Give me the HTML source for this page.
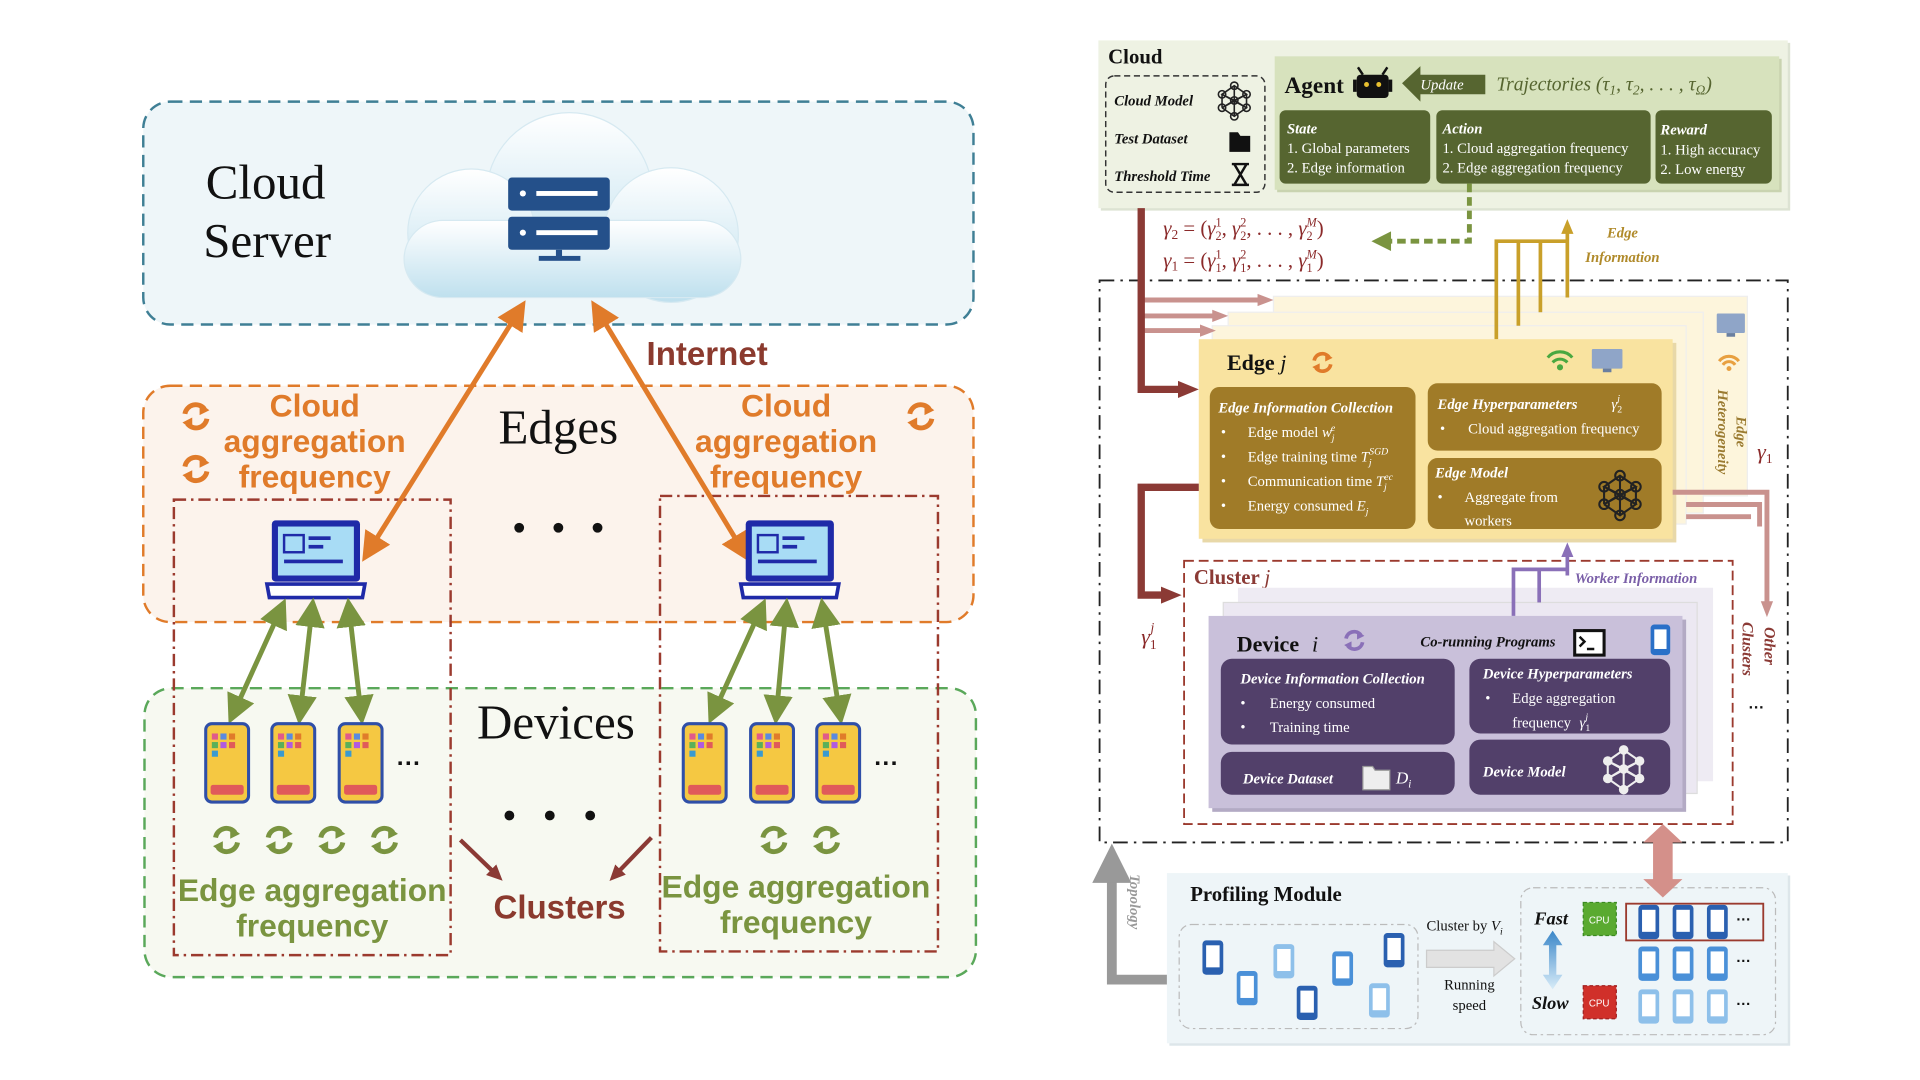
<!DOCTYPE html>
<html><head><meta charset="utf-8"><style>
html,body{margin:0;padding:0;background:#fff;width:1920px;height:1080px;overflow:hidden}
svg{display:block}
.serif{font-family:"Liberation Serif",serif}
.sans{font-family:"Liberation Sans Narrow","Liberation Sans",sans-serif}
</style></head><body>
<svg width="1920" height="1080" viewBox="0 0 1568 882" preserveAspectRatio="none" xmlns="http://www.w3.org/2000/svg">
<defs>
<linearGradient id="cg" x1="0" y1="0" x2="0" y2="1"><stop offset="0" stop-color="#ffffff"/><stop offset="1" stop-color="#bfe0ee"/></linearGradient>
<linearGradient id="fs" x1="0" y1="0" x2="0" y2="1"><stop offset="0" stop-color="#3a86c8"/><stop offset="1" stop-color="#d8ecf8"/></linearGradient>
<marker id="ao" markerWidth="6" markerHeight="6" refX="4" refY="3" orient="auto-start-reverse" markerUnits="strokeWidth"><path d="M0,0 L6,3 L0,6 z" fill="#e07b2a"/></marker>
<marker id="ag" markerWidth="6" markerHeight="6" refX="4" refY="3" orient="auto-start-reverse" markerUnits="strokeWidth"><path d="M0,0 L6,3 L0,6 z" fill="#7a9440"/></marker>
<marker id="ar" markerWidth="18" markerHeight="18" refX="6" refY="9" orient="auto" markerUnits="userSpaceOnUse"><path d="M0,2 L17,9 L0,16 z" fill="#8b3a35"/></marker>
<marker id="arl" markerWidth="14" markerHeight="14" refX="4" refY="7" orient="auto" markerUnits="userSpaceOnUse"><path d="M0,1 L13,7 L0,13 z" fill="#8b3a35"/></marker>
<marker id="ap" markerWidth="14" markerHeight="12" refX="3" refY="6" orient="auto" markerUnits="userSpaceOnUse"><path d="M0,1 L13,6 L0,11 z" fill="#c9928e"/></marker>
<marker id="ay" markerWidth="12" markerHeight="12" refX="3" refY="6" orient="auto" markerUnits="userSpaceOnUse"><path d="M0,1 L12,6 L0,11 z" fill="#c9a02a"/></marker>
<marker id="av" markerWidth="12" markerHeight="12" refX="3" refY="6" orient="auto" markerUnits="userSpaceOnUse"><path d="M0,1 L12,6 L0,11 z" fill="#8a70b8"/></marker>
<marker id="agr" markerWidth="4" markerHeight="4" refX="2" refY="2" orient="auto" markerUnits="strokeWidth"><path d="M0,0 L4,2 L0,4 z" fill="#999"/></marker>
<g id="refO"><path d="M-9,-2 A9,9 0 0 1 7,-6" fill="none" stroke="#e07b2a" stroke-width="4"/><path d="M3,-11 L11,-5 L3,-1 z" fill="#e07b2a"/><path d="M9,2 A9,9 0 0 1 -7,6" fill="none" stroke="#e07b2a" stroke-width="4"/><path d="M-3,11 L-11,5 L-3,1 z" fill="#e07b2a"/></g>
<g id="refG"><path d="M-9,-2 A9,9 0 0 1 7,-6" fill="none" stroke="#7a9440" stroke-width="4"/><path d="M3,-11 L11,-5 L3,-1 z" fill="#7a9440"/><path d="M9,2 A9,9 0 0 1 -7,6" fill="none" stroke="#7a9440" stroke-width="4"/><path d="M-3,11 L-11,5 L-3,1 z" fill="#7a9440"/></g>
<g id="phone"><rect x="0" y="0" width="35" height="64" rx="5" fill="#f5c842" stroke="#2f4fa8" stroke-width="2.5"/>
<rect x="5" y="8" width="5" height="5" fill="#e05a8a"/><rect x="12" y="8" width="5" height="5" fill="#5a8ae0"/><rect x="19" y="8" width="5" height="5" fill="#e07b2a"/>
<rect x="5" y="15" width="5" height="5" fill="#5ab05a"/><rect x="12" y="15" width="5" height="5" fill="#b05ae0"/><rect x="19" y="15" width="5" height="5" fill="#e05a5a"/>
<rect x="5" y="22" width="5" height="5" fill="#3a9ad0"/><rect x="4" y="50" width="27" height="8" rx="2" fill="#e05a5a"/></g>
<g id="laptop"><rect x="4" y="0" width="72" height="50" rx="3" fill="#1f2aa8"/><rect x="9" y="5" width="62" height="40" fill="#a8dcf5"/>
<rect x="14" y="12" width="16" height="14" fill="none" stroke="#1f2aa8" stroke-width="2"/><rect x="34" y="13" width="18" height="3" fill="#1f2aa8"/><rect x="34" y="20" width="12" height="3" fill="#1f2aa8"/><rect x="14" y="32" width="48" height="3" fill="#1f2aa8"/>
<path d="M0,52 L80,52 L78,63 L2,63 z" fill="#fff" stroke="#1f2aa8" stroke-width="3"/></g>
<g id="bp"><rect x="0" y="0" width="17" height="28" rx="3"/><rect x="3" y="4" width="11" height="18" fill="#fff"/></g>
<g id="net" fill="none" stroke="#222" stroke-width="1.3"><circle cx="0" cy="-12" r="3"/><circle cx="-10" cy="-5" r="3"/><circle cx="10" cy="-5" r="3"/><circle cx="0" cy="0" r="3"/><circle cx="-10" cy="6" r="3"/><circle cx="10" cy="6" r="3"/><circle cx="0" cy="13" r="3"/><path d="M0,-12 L-10,-5 L0,0 L10,-5 Z M-10,-5 L-10,6 M10,-5 L10,6 M-10,6 L0,13 L10,6 L0,0 L-10,6 M0,-12 L0,13 M-10,-5 L10,6 M10,-5 L-10,6"/></g>
</defs>

<!-- ================= LEFT ================= -->
<rect x="117" y="83" width="678" height="182" rx="22" fill="#eef6f9" stroke="#3f7f95" stroke-width="2" stroke-dasharray="10,6"/>
<g fill="url(#cg)" stroke="#d6e9f1" stroke-width="1">
<circle cx="465" cy="160" r="68"/><circle cx="385" cy="190" r="52"/><circle cx="548" cy="192" r="55"/><rect x="330" y="180" width="275" height="63" rx="32"/>
</g>
<rect x="415" y="145" width="83" height="27" rx="3" fill="#24508a"/><rect x="415" y="177" width="83" height="27" rx="3" fill="#24508a"/>
<rect x="438" y="156" width="50" height="4" fill="#fff"/><rect x="438" y="188" width="50" height="4" fill="#fff"/><circle cx="427" cy="158" r="2.5" fill="#fff"/><circle cx="427" cy="190" r="2.5" fill="#fff"/>
<rect x="454" y="204" width="5" height="8" fill="#24508a"/><rect x="440" y="209" width="34" height="4" fill="#24508a"/>
<text x="168" y="162" class="serif" font-size="40" fill="#111">Cloud</text>
<text x="166" y="210" class="serif" font-size="40" fill="#111">Server</text>

<rect x="117" y="315" width="678" height="193" rx="22" fill="#fcf3ec" stroke="#e07b2a" stroke-width="2" stroke-dasharray="10,6"/>
<rect x="118" y="562" width="679" height="236" rx="22" fill="#f7f9f1" stroke="#5aa85a" stroke-width="2" stroke-dasharray="10,6"/>
<rect x="142" y="408" width="226" height="372" fill="none" stroke="#9b3a2e" stroke-width="2" stroke-dasharray="10,4,2,4"/>
<rect x="539" y="405" width="227" height="372" fill="none" stroke="#9b3a2e" stroke-width="2" stroke-dasharray="10,4,2,4"/>

<text x="456" y="362" class="serif" font-size="40" fill="#111" text-anchor="middle">Edges</text>
<text x="454" y="603" class="serif" font-size="40" fill="#111" text-anchor="middle">Devices</text>
<g class="sans" font-weight="bold" font-size="26" fill="#e07b2a" text-anchor="middle">
<text x="257" y="340">Cloud</text><text x="257" y="369">aggregation</text><text x="257" y="398">frequency</text>
<text x="642" y="340">Cloud</text><text x="642" y="369">aggregation</text><text x="642" y="398">frequency</text>
</g>
<use href="#refO" x="160" y="340"/><use href="#refO" x="160" y="383"/><use href="#refO" x="752" y="340"/>
<text x="528" y="298" class="sans" font-weight="bold" font-size="27" fill="#8b3a2e">Internet</text>
<g fill="#111"><circle cx="424" cy="431" r="4"/><circle cx="456" cy="431" r="4"/><circle cx="488" cy="431" r="4"/>
<circle cx="416" cy="666" r="4"/><circle cx="449" cy="666" r="4"/><circle cx="482" cy="666" r="4"/></g>

<line x1="300" y1="452" x2="425" y2="252" stroke="#e07b2a" stroke-width="4" marker-start="url(#ao)" marker-end="url(#ao)"/>
<line x1="608" y1="452" x2="487" y2="252" stroke="#e07b2a" stroke-width="4" marker-start="url(#ao)" marker-end="url(#ao)"/>
<use href="#laptop" x="218" y="425"/><use href="#laptop" x="605" y="425"/>

<g stroke="#7a9440" stroke-width="4" marker-start="url(#ag)" marker-end="url(#ag)">
<line x1="230" y1="496" x2="190" y2="584"/><line x1="255" y1="496" x2="245" y2="584"/><line x1="285" y1="496" x2="295" y2="584"/>
<line x1="622" y1="496" x2="582" y2="584"/><line x1="642" y1="496" x2="634" y2="584"/><line x1="672" y1="496" x2="686" y2="584"/>
</g>
<use href="#phone" x="168" y="591"/><use href="#phone" x="222" y="591"/><use href="#phone" x="277" y="591"/>
<use href="#phone" x="558" y="591"/><use href="#phone" x="613" y="591"/><use href="#phone" x="667" y="591"/>
<text x="324" y="630" font-family="Liberation Sans" font-size="20" font-weight="bold" fill="#111">···</text>
<text x="714" y="630" font-family="Liberation Sans" font-size="20" font-weight="bold" fill="#111">···</text>
<use href="#refG" x="185" y="686"/><use href="#refG" x="228" y="686"/><use href="#refG" x="271" y="686"/><use href="#refG" x="314" y="686"/>
<use href="#refG" x="632" y="686"/><use href="#refG" x="675" y="686"/>
<g class="sans" font-weight="bold" font-size="26" fill="#7a9440" text-anchor="middle">
<text x="255" y="736">Edge aggregation</text><text x="255" y="765">frequency</text>
<text x="650" y="733">Edge aggregation</text><text x="650" y="762">frequency</text>
</g>
<line x1="376" y1="686" x2="404" y2="713" stroke="#8b3a35" stroke-width="3.5" marker-end="url(#arl)"/>
<line x1="532" y1="684" x2="504" y2="713" stroke="#8b3a35" stroke-width="3.5" marker-end="url(#arl)"/>
<text x="457" y="750" class="sans" font-weight="bold" font-size="27" fill="#8b3a2e" text-anchor="middle">Clusters</text>

<!-- ================= RIGHT ================= -->
<rect x="899" y="35" width="563" height="137" fill="#dde3d3"/>
<rect x="897" y="33" width="563" height="137" fill="#eef2e3"/>
<text x="905" y="52" class="serif" font-weight="bold" font-size="17" fill="#111">Cloud</text>
<rect x="903" y="62" width="130" height="95" rx="7" fill="none" stroke="#333" stroke-width="1.2" stroke-dasharray="5,3"/>
<g class="serif" font-style="italic" font-weight="bold" font-size="12" fill="#111">
<text x="910" y="86">Cloud Model</text><text x="910" y="117">Test Dataset</text><text x="910" y="148">Threshold Time</text></g>
<use href="#net" x="1008" y="82"/>
<path d="M1004,108 h7 l2,3 h8 v13 h-17 z" fill="#111"/>
<path d="M1006,134 h14 M1006,151 h14 M1008,134 L1018,151 M1018,134 L1008,151" stroke="#111" stroke-width="2" fill="none"/>
<rect x="1043" y="48" width="412" height="109" fill="#c9d3b0"/>
<rect x="1041" y="46" width="412" height="109" fill="#d7e2bd"/>
<text x="1049" y="76" class="serif" font-weight="bold" font-size="19" fill="#111">Agent</text>
<rect x="1108" y="61" width="26" height="19" rx="3" fill="#111"/><rect x="1105" y="65" width="3" height="10" fill="#111"/><rect x="1134" y="65" width="3" height="10" fill="#111"/>
<path d="M1113,61 l-4,-6 M1129,61 l4,-6" stroke="#111" stroke-width="2"/><circle cx="1116" cy="69" r="2" fill="#e8c030"/><circle cx="1126" cy="69" r="2" fill="#e8c030"/>
<path d="M1145,68 L1160,54 L1160,61 L1213,61 L1213,77 L1160,77 L1160,83 z" fill="#566530"/>
<text x="1160" y="73" class="serif" font-style="italic" font-size="12" fill="#fff">Update</text>
<text x="1222" y="74" class="serif" font-style="italic" font-size="16" fill="#566530">Trajectories (τ<tspan font-size="11" dy="3">1</tspan><tspan dy="-3">, τ</tspan><tspan font-size="11" dy="3">2</tspan><tspan dy="-3">, . . . , τ</tspan><tspan font-size="11" dy="3">Ω</tspan><tspan dy="-3">)</tspan></text>
<g fill="#566530"><rect x="1045" y="90" width="123" height="60" rx="5"/><rect x="1173" y="90" width="175" height="60" rx="5"/><rect x="1352" y="90" width="95" height="60" rx="5"/></g>
<g class="serif" font-size="12" fill="#fff">
<text x="1051" y="109" font-style="italic" font-weight="bold">State</text><text x="1051" y="125">1. Global parameters</text><text x="1051" y="141">2. Edge information</text>
<text x="1178" y="109" font-style="italic" font-weight="bold">Action</text><text x="1178" y="125">1. Cloud aggregation frequency</text><text x="1178" y="141">2. Edge aggregation frequency</text>
<text x="1356" y="110" font-style="italic" font-weight="bold">Reward</text><text x="1356" y="126">1. High accuracy</text><text x="1356" y="142">2. Low energy</text>
</g>
<path d="M1200,150 V197 H1134" fill="none" stroke="#7a9440" stroke-width="4" stroke-dasharray="7,4"/>
<path d="M1120,197 L1136,189 L1136,205 z" fill="#7a9440"/>
<g class="serif" font-style="italic" font-size="17" fill="#8b2a2a">
<text x="950" y="192">γ<tspan font-size="11" dy="3" font-style="normal">2</tspan><tspan dy="-3" font-style="normal"> = (</tspan>γ<tspan font-size="10" dy="4" font-style="normal">2</tspan><tspan font-size="10" dx="-5" dy="-11" font-style="normal">1</tspan><tspan dy="7" font-style="normal">, </tspan>γ<tspan font-size="10" dy="4" font-style="normal">2</tspan><tspan font-size="10" dx="-5" dy="-11" font-style="normal">2</tspan><tspan dy="7" font-style="normal">, . . . , </tspan>γ<tspan font-size="10" dy="4" font-style="normal">2</tspan><tspan font-size="10" dx="-5" dy="-11">M</tspan><tspan dy="7" font-style="normal">)</tspan></text>
<text x="950" y="218">γ<tspan font-size="11" dy="3" font-style="normal">1</tspan><tspan dy="-3" font-style="normal"> = (</tspan>γ<tspan font-size="10" dy="4" font-style="normal">1</tspan><tspan font-size="10" dx="-5" dy="-11" font-style="normal">1</tspan><tspan dy="7" font-style="normal">, </tspan>γ<tspan font-size="10" dy="4" font-style="normal">1</tspan><tspan font-size="10" dx="-5" dy="-11" font-style="normal">2</tspan><tspan dy="7" font-style="normal">, . . . , </tspan>γ<tspan font-size="10" dy="4" font-style="normal">1</tspan><tspan font-size="10" dx="-5" dy="-11">M</tspan><tspan dy="7" font-style="normal">)</tspan></text>
</g>

<rect x="898" y="229" width="562" height="459" fill="none" stroke="#222" stroke-width="1.5" stroke-dasharray="12,5,2,5"/>

<!-- edge cards -->
<rect x="1040" y="242" width="387" height="163" fill="#fdf5dc" stroke="#eee" stroke-width="1"/>
<rect x="1003" y="255" width="388" height="164" fill="#fdf5dc" stroke="#eee" stroke-width="1"/>
<rect x="990" y="266" width="387" height="162" fill="#fdf5dc" stroke="#eee" stroke-width="1"/>
<rect x="982" y="280" width="387" height="163" fill="#e8d8a8"/>
<rect x="979" y="277" width="387" height="163" fill="#f9e3a0"/>
<rect x="1402" y="256" width="23" height="16" rx="1" fill="#8fa5c8"/><rect x="1410" y="272" width="7" height="3" fill="#6a7fa0"/>
<g fill="none" stroke="#e8a040" stroke-width="2.5"><path d="M1404,295 a10,10 0 0 1 16,0"/><path d="M1407,298 a6,6 0 0 1 10,0"/></g><circle cx="1412" cy="301" r="2" fill="#e8a040"/>
<g class="serif" font-style="italic" font-weight="bold" font-size="12" fill="#9a7a30">
<text transform="translate(1403,318) rotate(90)">Heterogeneity</text><text transform="translate(1418,340) rotate(90)">Edge</text></g>
<text x="1435" y="375" class="serif" font-style="italic" font-size="18" fill="#8b2a2a">γ<tspan font-size="11" dy="3" font-style="normal">1</tspan></text>

<text x="1002" y="302" class="serif" font-size="18" fill="#111" font-weight="bold">Edge <tspan font-style="italic" font-weight="normal">j</tspan></text>
<g transform="translate(1080,296) scale(0.75)"><use href="#refO"/></g>
<g fill="none" stroke="#4aa840" stroke-width="2.5"><path d="M1264,292 a13,13 0 0 1 20,0"/><path d="M1268,296 a8,8 0 0 1 12,0"/></g><circle cx="1274" cy="300" r="2.5" fill="#4aa840"/>
<rect x="1300" y="285" width="25" height="16" rx="1" fill="#8fa5c8"/><rect x="1309" y="301" width="7" height="3" fill="#6a7fa0"/>
<g fill="#a07b28"><rect x="988" y="316" width="168" height="116" rx="8"/><rect x="1166" y="313" width="191" height="55" rx="8"/><rect x="1166" y="374" width="191" height="58" rx="8"/></g>
<g class="serif" font-size="12" fill="#fff">
<text x="995" y="337" font-style="italic" font-weight="bold">Edge Information Collection</text>
<text x="997" y="357">•</text><text x="1019" y="357">Edge model <tspan font-style="italic">w</tspan><tspan font-size="8" dy="3" font-style="italic">j</tspan><tspan font-size="8" dx="-3" dy="-8" font-style="italic">e</tspan></text>
<text x="997" y="377">•</text><text x="1019" y="377">Edge training time <tspan font-style="italic">T</tspan><tspan font-size="8" dy="3" font-style="italic">j</tspan><tspan font-size="8" dx="-2" dy="-9" font-style="italic">SGD</tspan></text>
<text x="997" y="397">•</text><text x="1019" y="397">Communication time <tspan font-style="italic">T</tspan><tspan font-size="8" dy="3" font-style="italic">j</tspan><tspan font-size="8" dx="-2" dy="-8" font-style="italic">ec</tspan></text>
<text x="997" y="417">•</text><text x="1019" y="417">Energy consumed <tspan font-style="italic">E</tspan><tspan font-size="8" dy="3" font-style="italic">j</tspan></text>
<text x="1174" y="334" font-style="italic" font-weight="bold">Edge Hyperparameters</text><text x="1316" y="334" font-style="italic">γ<tspan font-size="8" dy="3" font-style="normal">2</tspan><tspan font-size="8" dx="-4" dy="-9">j</tspan></text>
<text x="1176" y="354">•</text><text x="1199" y="354">Cloud aggregation frequency</text>
<text x="1172" y="390" font-style="italic" font-weight="bold">Edge Model</text>
<text x="1174" y="410">•</text><text x="1196" y="410">Aggregate from</text><text x="1196" y="429">workers</text>
</g>
<g transform="translate(1323,404) scale(1.3)"><use href="#net"/></g>

<!-- golden lines -->
<g stroke="#c9a02a" stroke-width="3" fill="none">
<path d="M1222,277 V197 H1280"/><path d="M1240,266 V197"/><path d="M1258,255 V197"/><path d="M1280,243 V188" marker-end="url(#ay)"/>
</g>
<text x="1325" y="194" class="serif" font-style="italic" font-weight="bold" font-size="12" fill="#b08a2a" text-anchor="middle">Edge</text>
<text x="1325" y="214" class="serif" font-style="italic" font-weight="bold" font-size="12" fill="#b08a2a" text-anchor="middle">Information</text>

<!-- red & pink connectors -->
<g stroke="#c9928e" stroke-width="4" fill="none">
<path d="M932,245 H1030" marker-end="url(#ap)"/><path d="M932,258 H993" marker-end="url(#ap)"/><path d="M932,270 H983" marker-end="url(#ap)"/>
<path d="M1366,402 H1443 V494" marker-end="url(#ap)"/><path d="M1377,412 H1437 V430"/><path d="M1377,422 H1430"/>
</g>
<path d="M932,170 V318 H968" fill="none" stroke="#8b3a35" stroke-width="6" marker-end="url(#ar)"/>
<path d="M979,398 H932 V486 H954" fill="none" stroke="#8b3a35" stroke-width="6" marker-end="url(#ar)"/>

<!-- cluster -->
<rect x="967" y="458" width="448" height="215" fill="none" stroke="#9b3a2e" stroke-width="1.5" stroke-dasharray="8,4"/>
<text x="975" y="477" class="serif" font-size="17" fill="#8b3a35" font-weight="bold">Cluster <tspan font-style="italic" font-weight="normal">j</tspan></text>
<text x="932" y="526" class="serif" font-style="italic" font-size="18" fill="#8b2a2a">γ<tspan font-size="11" dy="4" font-style="normal">1</tspan><tspan font-size="11" dx="-5" dy="-14">j</tspan></text>
<g class="serif" font-style="italic" font-weight="bold" font-size="13" fill="#8b3a35">
<text transform="translate(1441,512) rotate(90)">Other</text><text transform="translate(1423,508) rotate(90)">Clusters</text></g>
<text x="1428" y="582" font-family="Liberation Sans" font-weight="bold" font-size="13" fill="#111">···</text>

<rect x="1011" y="480" width="388" height="158" fill="#eeebf3"/>
<rect x="999" y="492" width="387" height="156" fill="#ece8f2" stroke="#ddd"/>
<rect x="990" y="506" width="387" height="157" fill="#b3aac4"/>
<rect x="987" y="503" width="387" height="157" fill="#c9c0da"/>
<g stroke="#8a70b8" stroke-width="3" fill="none">
<path d="M1236,503 V465 H1280"/><path d="M1257,492 V465"/><path d="M1280,470 V452" marker-end="url(#av)"/>
</g>
<text x="1286" y="476" class="serif" font-style="italic" font-weight="bold" font-size="12" fill="#7a5fa8">Worker Information</text>
<text x="1010" y="532" class="serif" font-size="18" fill="#111" font-weight="bold">Device <tspan font-style="italic" font-weight="normal" dx="6">i</tspan></text>
<g transform="translate(1106,523) scale(0.75)"><g stroke="#8a70b8"><path d="M-9,-2 A9,9 0 0 1 7,-6" fill="none" stroke-width="4"/><path d="M9,2 A9,9 0 0 1 -7,6" fill="none" stroke-width="4"/></g><path d="M3,-11 L11,-5 L3,-1 z M-3,11 L-11,5 L-3,1 z" fill="#8a70b8"/></g>
<text x="1160" y="528" class="serif" font-style="italic" font-weight="bold" font-size="12" fill="#111">Co-running Programs</text>
<rect x="1286" y="515" width="24" height="20" fill="#fff" stroke="#111" stroke-width="2.5"/><path d="M1290,520 l4,4 l-4,4 M1296,530 h6" stroke="#111" stroke-width="2" fill="none"/>
<rect x="1348" y="510" width="16" height="25" rx="3" fill="#2a70c8"/><rect x="1351" y="514" width="10" height="16" fill="#fff"/>
<g fill="#52406a"><rect x="997" y="538" width="191" height="70" rx="9"/><rect x="1200" y="538" width="164" height="61" rx="9"/><rect x="997" y="614" width="191" height="35" rx="9"/><rect x="1200" y="604" width="164" height="45" rx="9"/></g>
<g class="serif" font-size="12" fill="#fff">
<text x="1013" y="558" font-style="italic" font-weight="bold">Device Information Collection</text>
<text x="1013" y="578">•</text><text x="1037" y="578">Energy consumed</text>
<text x="1013" y="598">•</text><text x="1037" y="598">Training time</text>
<text x="1211" y="554" font-style="italic" font-weight="bold">Device Hyperparameters</text>
<text x="1213" y="574">•</text><text x="1235" y="574">Edge aggregation</text><text x="1235" y="594">frequency <tspan font-style="italic" dx="4">γ</tspan><tspan font-size="8" dy="3">1</tspan><tspan font-size="8" dx="-4" dy="-9" font-style="italic">j</tspan></text>
<text x="1015" y="640" font-style="italic" font-weight="bold">Device Dataset</text>
<text x="1140" y="640" font-style="italic" font-size="14">D<tspan font-size="9" dy="3">i</tspan></text>
<text x="1211" y="634" font-style="italic" font-weight="bold">Device Model</text>
</g>
<path d="M1113,626 h8 l2,3 h12 v16 h-22 z" fill="#eee" stroke="#999"/>
<g transform="translate(1326,628) scale(1.3)"><g fill="none" stroke="#eee" stroke-width="1.3"><path d="M0,-12 L-10,-5 L0,0 L10,-5 Z M-10,-5 L-10,6 M10,-5 L10,6 M-10,6 L0,13 L10,6 L0,0 L-10,6 M0,-12 L0,13 M-10,-5 L10,6 M10,-5 L-10,6"/></g><g fill="#eee"><circle cx="0" cy="-12" r="3"/><circle cx="-10" cy="-5" r="3"/><circle cx="10" cy="-5" r="3"/><circle cx="0" cy="0" r="3"/><circle cx="-10" cy="6" r="3"/><circle cx="10" cy="6" r="3"/><circle cx="0" cy="13" r="3"/></g></g>

<!-- topology -->
<path d="M953,800 H908 V705" fill="none" stroke="#999" stroke-width="8" marker-end="url(#agr)"/>
<text transform="translate(923,714) rotate(90)" class="serif" font-style="italic" font-weight="bold" font-size="12" fill="#999">Topology</text>

<!-- profiling -->
<rect x="955" y="715" width="507" height="139" fill="#dde6ea"/>
<rect x="953" y="713" width="507" height="139" fill="#eef5f8"/>
<text x="972" y="736" class="serif" font-weight="bold" font-size="17" fill="#111">Profiling Module</text>
<rect x="963" y="755" width="195" height="85" rx="10" fill="none" stroke="#bbb" stroke-dasharray="6,3,2,3"/>
<rect x="1242" y="725" width="208" height="120" rx="10" fill="none" stroke="#bbb" stroke-dasharray="6,3,2,3"/>
<use href="#bp" x="982" y="768" fill="#2a60b0"/><use href="#bp" x="1010" y="793" fill="#4a90d8"/><use href="#bp" x="1040" y="771" fill="#8ec0ea"/>
<use href="#bp" x="1059" y="805" fill="#2a60b0"/><use href="#bp" x="1088" y="777" fill="#4a90d8"/><use href="#bp" x="1130" y="762" fill="#2a60b0"/><use href="#bp" x="1118" y="803" fill="#8ec0ea"/>
<text x="1165" y="760" class="serif" font-size="12" fill="#111">Cluster by <tspan font-style="italic">V<tspan font-size="8" dy="3">i</tspan></tspan></text>
<path d="M1165,776 H1220 V769 L1237,783 L1220,797 V790 H1165 z" fill="#e2e2e2" stroke="#ccc"/>
<text x="1200" y="808" class="serif" font-size="12" fill="#111" text-anchor="middle">Running</text>
<text x="1200" y="825" class="serif" font-size="12" fill="#111" text-anchor="middle">speed</text>
<text x="1253" y="755" class="serif" font-style="italic" font-weight="bold" font-size="15" fill="#111">Fast</text>
<text x="1251" y="824" class="serif" font-style="italic" font-weight="bold" font-size="15" fill="#111">Slow</text>
<path d="M1268,760 L1276,772 L1271,772 L1271,796 L1276,796 L1268,808 L1260,796 L1265,796 L1265,772 L1260,772 z" fill="url(#fs)"/>
<rect x="1293" y="737" width="27" height="27" fill="#5aaa30" stroke="#3a8a20" stroke-dasharray="3,2"/><text x="1306" y="754" text-anchor="middle" font-family="Liberation Sans" font-size="8" fill="#fff">CPU</text>
<rect x="1293" y="805" width="27" height="27" fill="#d0302a" stroke="#a02020" stroke-dasharray="3,2"/><text x="1306" y="822" text-anchor="middle" font-family="Liberation Sans" font-size="8" fill="#fff">CPU</text>
<rect x="1328" y="738" width="112" height="30" fill="none" stroke="#9b3a2e" stroke-width="1.5"/>
<use href="#bp" x="1338" y="739" fill="#2a60b0"/><use href="#bp" x="1366" y="739" fill="#2a60b0"/><use href="#bp" x="1394" y="739" fill="#2a60b0"/>
<use href="#bp" x="1338" y="773" fill="#4a90d8"/><use href="#bp" x="1366" y="773" fill="#4a90d8"/><use href="#bp" x="1394" y="773" fill="#4a90d8"/>
<use href="#bp" x="1338" y="808" fill="#8ec0ea"/><use href="#bp" x="1366" y="808" fill="#8ec0ea"/><use href="#bp" x="1394" y="808" fill="#8ec0ea"/>
<g font-family="Liberation Sans" font-weight="bold" font-size="12" fill="#111"><text x="1418" y="755">···</text><text x="1418" y="789">···</text><text x="1418" y="824">···</text></g>

<!-- big pink double arrow (on top) -->
<path d="M1358,673 L1374,688 L1366,688 L1366,718 L1374,718 L1358,733 L1342,718 L1350,718 L1350,688 L1342,688 z" fill="#d4908a"/>
</svg>
</body></html>
